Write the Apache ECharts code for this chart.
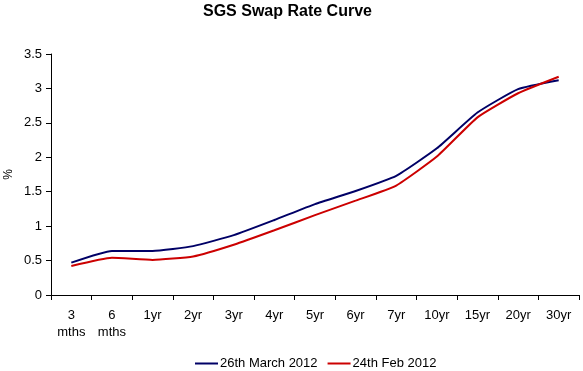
<!DOCTYPE html>
<html><head><meta charset="utf-8">
<script src="https://cdn.jsdelivr.net/npm/echarts@6/dist/echarts.min.js"></script>
<style>html,body{margin:0;padding:0;background:#fff}#c{width:583px;height:371px}</style>
</head><body><div id="c"></div>
<script>
const categories = ['3\nmths','6\nmths','1yr','2yr','3yr','4yr','5yr','6yr','7yr','10yr','15yr','20yr','30yr'];
const march26 = [0.47,0.64,0.64,0.71,0.87,1.09,1.32,1.51,1.73,2.13,2.65,2.99,3.12];
const feb24 = [0.42,0.54,0.51,0.56,0.73,0.94,1.16,1.37,1.59,2.01,2.58,2.93,3.17];
const yTicks = [0,0.5,1,1.5,2,2.5,3,3.5];
const font = 'Liberation Sans, Arial, sans-serif';
const chart = echarts.init(document.getElementById('c'), null, {renderer:'canvas'});
chart.setOption({
  animation:false,
  backgroundColor:'#fff',
  title:{text:'SGS Swap Rate Curve',left:203,top:4,padding:0,textStyle:{fontFamily:font,fontSize:16,fontWeight:'bold',color:'#000'}},
  legend:{bottom:1,left:195,padding:0,itemWidth:23,itemHeight:2,itemGap:10,icon:'rect',
    textStyle:{fontFamily:font,fontSize:13,color:'#000',padding:[0,0,0,-3]},
    data:['26th March 2012','24th Feb 2012']},
  grid:{left:51,right:4,top:54,bottom:76,outerBoundsMode:'none',containLabel:false},
  xAxis:{type:'category',data:categories,boundaryGap:true,
    axisLine:{lineStyle:{color:'#000',width:1}},
    axisTick:{show:true,length:5,lineStyle:{color:'#000'}},
    axisLabel:{color:'#000',fontFamily:font,fontSize:13,margin:12,lineHeight:17,interval:0},
    splitLine:{show:false}},
  yAxis:{type:'value',min:0,max:3.5,interval:0.5,
    name:'%',nameLocation:'middle',nameGap:36,nameRotate:90,nameMoveOverlap:false,
    nameTextStyle:{color:'#000',fontFamily:font,fontSize:12},
    axisLine:{show:true,lineStyle:{color:'#000',width:1}},
    axisTick:{show:true,length:5,lineStyle:{color:'#000'}},
    axisLabel:{color:'#000',fontFamily:font,fontSize:13,margin:9,formatter:v=>yTicks.includes(v)?String(v):''},
    splitLine:{show:false}},
  series:[
    {name:'26th March 2012',type:'line',data:march26,showSymbol:false,smooth:0.15,
      lineStyle:{color:'#000066',width:2},itemStyle:{color:'#000066'}},
    {name:'24th Feb 2012',type:'line',data:feb24,showSymbol:false,smooth:0.15,
      lineStyle:{color:'#cc0000',width:2},itemStyle:{color:'#cc0000'}}
  ]
});
</script></body></html>
